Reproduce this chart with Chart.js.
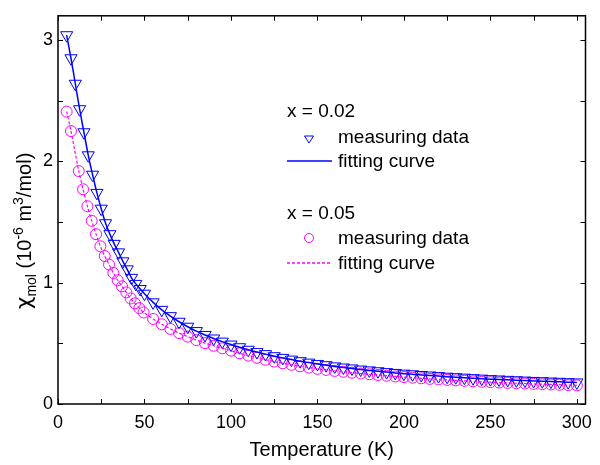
<!DOCTYPE html>
<html>
<head>
<meta charset="utf-8">
<script src="https://cdn.jsdelivr.net/npm/chart.js@4.4.0/dist/chart.umd.min.js"></script>
<style>
  html, body { margin: 0; padding: 0; background: #fff; }
</style>
</head>
<body>
<canvas id="chart" width="600" height="465"></canvas>
<script>
// x = 0.02 sample
const tempBlue = [5, 7.5, 10, 12.5, 15, 17.5, 20, 22.5, 25, 27.5, 30, 32.5, 35, 37.5, 40, 42.5, 45, 47.5, 50,
  55, 60, 65, 70, 75, 80, 85, 90, 95, 100, 105, 110, 115, 120, 125, 130, 135, 140, 145, 150,
  155, 160, 165, 170, 175, 180, 185, 190, 195, 200, 205, 210, 215, 220, 225, 230, 235, 240, 245, 250,
  255, 260, 265, 270, 275, 280, 285, 290, 295, 300];
const chiBlue = [3.04, 2.85, 2.64, 2.43, 2.24, 2.05, 1.89, 1.74, 1.61, 1.49, 1.40, 1.32, 1.25, 1.176, 1.11, 1.04, 0.99, 0.948, 0.909,
  0.838, 0.776, 0.724, 0.678, 0.637, 0.601, 0.569, 0.540, 0.514, 0.490,
  0.468, 0.447, 0.428, 0.411, 0.394, 0.380, 0.366, 0.353, 0.341, 0.330,
  0.320, 0.310, 0.301, 0.293, 0.284, 0.277, 0.270, 0.263, 0.256, 0.250,
  0.245, 0.239, 0.235, 0.230, 0.225, 0.221, 0.217, 0.213, 0.209, 0.205,
  0.202, 0.199, 0.196, 0.193, 0.190, 0.188, 0.185, 0.183, 0.180, 0.178];

// x = 0.05 sample
const tempPink = [5, 7.5, 12, 14.5, 17, 19.5, 22, 24.5, 27, 29.5, 32, 34.5, 37, 39.5, 42, 44.5, 47, 49.5,
  55, 60, 65, 70, 75, 80, 85, 90, 95, 100, 105, 110, 115, 120, 125, 130, 135, 140, 145, 150,
  155, 160, 165, 170, 175, 180, 185, 190, 195, 200, 205, 210, 215, 220, 225, 230, 235, 240, 245, 250,
  255, 260, 265, 270, 275, 280, 285, 290, 295, 300];
const chiPink = [2.41, 2.25, 1.92, 1.77, 1.63, 1.51, 1.40, 1.30, 1.22, 1.15, 1.08, 1.02, 0.97, 0.92, 0.87, 0.83, 0.79, 0.755,
  0.701, 0.657, 0.619, 0.585, 0.555, 0.527, 0.502, 0.480, 0.459, 0.440,
  0.418, 0.399, 0.381, 0.365, 0.350, 0.336, 0.323, 0.311, 0.300, 0.290,
  0.281, 0.273, 0.266, 0.258, 0.251, 0.245, 0.239, 0.233, 0.227, 0.222,
  0.217, 0.212, 0.207, 0.203, 0.199, 0.195, 0.191, 0.187, 0.183, 0.180,
  0.177, 0.174, 0.171, 0.169, 0.166, 0.163, 0.161, 0.159, 0.156, 0.154];

const xTickLabels = [0, 50, 100, 150, 200, 250, 300];
const xMinorTicks = [25, 75, 125, 175, 225, 275];
const yTickLabels = [0, 1, 2, 3];
const yMinorTicks = [0.5, 1.5, 2.5];

const FONT = '"Liberation Sans", Arial, Helvetica, sans-serif';
const BLUE = '#0000ff';
const PINK = '#ff00ff';

const pts = (xs, ys) => xs.map((x, i) => ({x: x, y: ys[i]}));

const decor = {
  id: 'decor',
  afterDraw(chart) {
    const ctx = chart.ctx;
    const a = chart.chartArea;
    const xs = chart.scales.x, ys = chart.scales.y;
    ctx.save();
    // frame
    ctx.strokeStyle = '#000';
    ctx.lineWidth = 1.5;
    ctx.strokeRect(a.left, a.top, a.right - a.left, a.bottom - a.top);
    // inward ticks on all four sides
    ctx.lineWidth = 1;
    ctx.beginPath();
    xTickLabels.concat(xMinorTicks).forEach(v => {
      const px = Math.round(xs.getPixelForValue(v)) + 0.5;
      ctx.moveTo(px, a.bottom); ctx.lineTo(px, a.bottom - 5);
      ctx.moveTo(px, a.top); ctx.lineTo(px, a.top + 5);
    });
    yTickLabels.concat(yMinorTicks).forEach(v => {
      const py = Math.round(ys.getPixelForValue(v)) + 0.5;
      ctx.moveTo(a.left, py); ctx.lineTo(a.left + 5, py);
      ctx.moveTo(a.right, py); ctx.lineTo(a.right - 5, py);
    });
    ctx.stroke();

    ctx.fillStyle = '#000';
    // x axis title
    ctx.font = '20px ' + FONT;
    ctx.textAlign = 'center';
    ctx.textBaseline = 'middle';
    ctx.fillText('Temperature (K)', (a.left + a.right) / 2, 450);

    // y axis title with sub/superscripts
    const parts = [
      ['\u03c7', 22, 0, '"DejaVu Sans", sans-serif'], ['mol', 14, 5], [' (10', 20, 0], ['-6', 14, -8],
      [' m', 20, 0], ['3', 14, -8], ['/mol)', 20, 0]
    ];
    const fontOf = p => p[1] + 'px ' + (p[3] || FONT);
    let total = 0;
    parts.forEach(p => { ctx.font = fontOf(p); total += ctx.measureText(p[0]).width; });
    ctx.translate(24, 231);
    ctx.rotate(-Math.PI / 2);
    ctx.textAlign = 'left';
    ctx.textBaseline = 'alphabetic';
    let cx = -total / 2;
    parts.forEach(p => {
      ctx.font = fontOf(p);
      ctx.fillText(p[0], cx, 7 + p[2]);
      cx += ctx.measureText(p[0]).width;
    });
    ctx.setTransform(1, 0, 0, 1, 0, 0);

    // legend
    ctx.font = '19px ' + FONT;
    ctx.textBaseline = 'middle';
    ctx.textAlign = 'left';
    ctx.fillText('x = 0.02', 287, 112);
    ctx.fillText('measuring data', 338, 138);
    ctx.fillText('fitting curve', 338, 162);
    ctx.fillText('x = 0.05', 287, 214);
    ctx.fillText('measuring data', 338, 239);
    ctx.fillText('fitting curve', 338, 264);

    ctx.lineWidth = 1;
    ctx.strokeStyle = BLUE;
    ctx.beginPath();
    ctx.moveTo(309 - 4.5, 136); ctx.lineTo(309 + 4.5, 136); ctx.lineTo(309, 143); ctx.closePath();
    ctx.stroke();
    ctx.lineWidth = 1.5;
    ctx.beginPath();
    ctx.moveTo(287, 161); ctx.lineTo(332, 161);
    ctx.stroke();

    ctx.lineWidth = 1;
    ctx.strokeStyle = PINK;
    ctx.beginPath();
    ctx.arc(309, 238, 4.5, 0, Math.PI * 2);
    ctx.stroke();
    ctx.strokeStyle = PINK;
    ctx.lineWidth = 1.3;
    ctx.setLineDash([3, 2]);
    ctx.beginPath();
    ctx.moveTo(287, 263); ctx.lineTo(332, 263);
    ctx.stroke();
    ctx.restore();
  }
};

new Chart(document.getElementById('chart'), {
  type: 'scatter',
  data: {
    datasets: [
      {
        label: 'fit x = 0.02',
        data: pts(tempBlue, chiBlue),
        showLine: true,
        borderColor: BLUE,
        borderWidth: 1.5,
        pointRadius: 0,
        tension: 0.3
      },
      {
        label: 'fit x = 0.05',
        data: pts(tempPink, chiPink),
        showLine: true,
        borderColor: PINK,
        borderWidth: 1.2,
        borderDash: [3, 2],
        pointRadius: 0,
        tension: 0.3
      },
      {
        label: 'x = 0.02',
        data: pts(tempBlue, chiBlue),
        pointStyle: 'triangle',
        rotation: 180,
        pointRadius: 7,
        borderColor: BLUE,
        backgroundColor: 'rgba(0,0,0,0)',
        borderWidth: 1
      },
      {
        label: 'x = 0.05',
        data: pts(tempPink, chiPink),
        pointStyle: 'circle',
        pointRadius: 5.5,
        borderColor: PINK,
        backgroundColor: 'rgba(0,0,0,0)',
        borderWidth: 1
      }
    ]
  },
  options: {
    responsive: false,
    animation: false,
    events: [],
    layout: {padding: {top: 9, right: 6, left: 0, bottom: 0}},
    plugins: {
      legend: {display: false},
      tooltip: {enabled: false}
    },
    scales: {
      x: {
        type: 'linear',
        min: 0,
        max: 305,
        grid: {display: false, drawTicks: false},
        border: {display: false},
        afterBuildTicks: s => { s.ticks = xTickLabels.map(v => ({value: v})); },
        afterFit: s => { s.height = 61; },
        ticks: {
          color: '#000',
          padding: 8,
          maxRotation: 0,
          font: {family: FONT, size: 18}
        }
      },
      y: {
        min: 0,
        max: 3.2,
        grid: {display: false, drawTicks: false},
        border: {display: false},
        afterBuildTicks: s => { s.ticks = yTickLabels.map(v => ({value: v})); },
        afterFit: s => { s.width = 58; },
        ticks: {
          color: '#000',
          padding: 5,
          font: {family: FONT, size: 18}
        }
      }
    }
  },
  plugins: [decor]
});
</script>
</body>
</html>
